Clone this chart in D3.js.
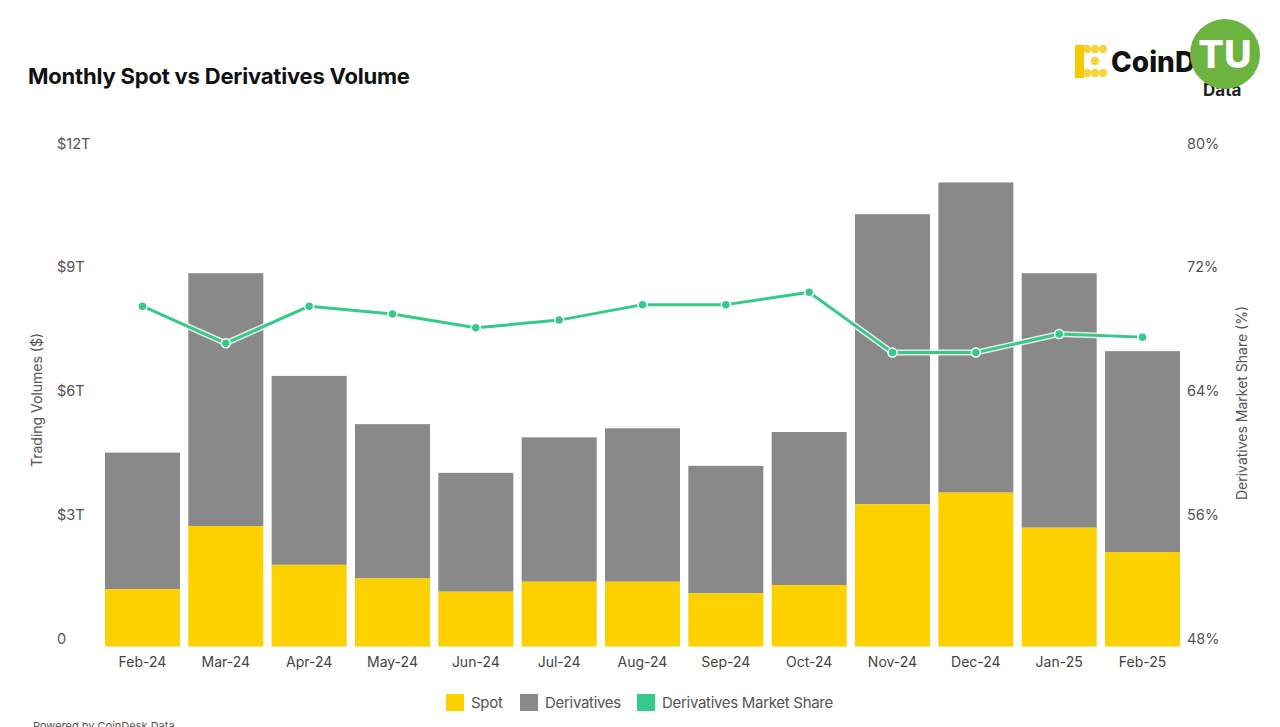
<!DOCTYPE html>
<html>
<head>
<meta charset="utf-8">
<script src="https://cdn.jsdelivr.net/npm/d3@7/dist/d3.min.js"></script>
<style>
  html, body { margin: 0; padding: 0; background: #fff; }
  svg { display: block; font-family: Inter, "Liberation Sans", Arial, sans-serif; }
</style>
</head>
<body>
<svg id="chart" width="1280" height="727"></svg>
<script>
// ---- data ----
const months = ["Feb-24","Mar-24","Apr-24","May-24","Jun-24","Jul-24","Aug-24","Sep-24","Oct-24","Nov-24","Dec-24","Jan-25","Feb-25"];
const spot = [1.39, 2.92, 1.98, 1.65, 1.33, 1.57, 1.57, 1.29, 1.49, 3.45, 3.73, 2.88, 2.29];           // $T
const derivatives = [3.31, 6.13, 4.58, 3.74, 2.88, 3.50, 3.72, 3.09, 3.71, 7.03, 7.52, 6.17, 4.87]; // $T
const marketShare = [70.0, 67.6, 70.0, 69.5, 68.6, 69.1, 70.1, 70.1, 70.9, 67.0, 67.0, 68.2, 68.0]; // %
const leftTicks = [0, 3, 6, 9, 12];
const leftTickLabels = ["0", "$3T", "$6T", "$9T", "$12T"];
const rightTicks = [48, 56, 64, 72, 80];
const rightTickLabels = ["48%", "56%", "64%", "72%", "80%"];
const seriesNames = ["Spot", "Derivatives", "Derivatives Market Share"];

const colors = { spot: "#FDD000", deriv: "#898989", share: "#35C98A" };

const svg = d3.select("#chart");

const x = d3.scaleBand().domain(months).range([100.8, 1184.2]).paddingInner(0.1).paddingOuter(0.05);
const y = d3.scaleLinear().domain([0, 12]).range([646.5, 151.5]);
const y2 = d3.scaleLinear().domain([48, 80]).range([646.5, 151.5]);

// title
svg.append("text").attr("x", 28).attr("y", 84)
  .attr("font-size", 22).attr("font-weight", 700).attr("fill", "#111")
  .attr("letter-spacing", -0.2)
  .text("Monthly Spot vs Derivatives Volume");

// logo
const logo = svg.append("g");
const dots = [[0,0],[1,0],[2,0],[3,0],[0,1],[0,2],[0,3],[1,3],[2,3],[3,3],[2,1.5]];
dots.forEach(([i,j]) => {
  logo.append("circle").attr("cx", 1079 + i*8).attr("cy", 49 + j*8).attr("r", 4.2).attr("fill", "#F6D33A");
});
logo.append("rect").attr("x", 1075).attr("y", 45).attr("width", 9).attr("height", 33).attr("fill", "#F6C900");
logo.append("text").attr("x", 1111).attr("y", 72).attr("font-size", 28).attr("font-weight", 800).attr("fill", "#111").text("CoinD");
logo.append("text").attr("x", 1203).attr("y", 96).attr("font-size", 17).attr("font-weight", 700).attr("fill", "#222").text("Data");
// watermark badge
svg.append("circle").attr("cx", 1225).attr("cy", 54).attr("r", 35).attr("fill", "#6CB33F");
svg.append("text").attr("x", 1225).attr("y", 68).attr("text-anchor", "middle")
  .attr("font-size", 38).attr("font-weight", 800).attr("fill", "#fff").text("TU");

// bars
const g = svg.append("g");
months.forEach((m, i) => {
  g.append("rect").attr("x", x(m)).attr("width", x.bandwidth())
    .attr("y", y(spot[i] + derivatives[i])).attr("height", y(spot[i]) - y(spot[i] + derivatives[i]))
    .attr("fill", colors.deriv);
  g.append("rect").attr("x", x(m)).attr("width", x.bandwidth())
    .attr("y", y(spot[i])).attr("height", y(0) - y(spot[i]))
    .attr("fill", colors.spot);
});

// axis labels
leftTicks.forEach((t, i) => {
  svg.append("text").attr("x", 57).attr("y", y(t) - 8).attr("dy", "0.35em")
    .attr("font-size", 14.5).attr("fill", "#555").text(leftTickLabels[i]);
});
rightTicks.forEach((t, i) => {
  svg.append("text").attr("x", 1187).attr("y", y2(t) - 8).attr("dy", "0.35em")
    .attr("font-size", 14.5).attr("fill", "#555").text(rightTickLabels[i]);
});

// axis titles
svg.append("text").attr("transform", "translate(42,400) rotate(-90)").attr("text-anchor", "middle")
  .attr("font-size", 14).attr("fill", "#555").text("Trading Volumes ($)");
svg.append("text").attr("transform", "translate(1247,403) rotate(-90)").attr("text-anchor", "middle")
  .attr("font-size", 14).attr("fill", "#555").text("Derivatives Market Share (%)");

// x labels
months.forEach(m => {
  svg.append("text").attr("x", x(m) + x.bandwidth()/2).attr("y", 667).attr("text-anchor", "middle")
    .attr("font-size", 14).attr("fill", "#444").text(m);
});

// line
const line = d3.line().x((d, i) => x(months[i]) + x.bandwidth()/2).y(d => y2(d));
svg.append("path").datum(marketShare).attr("d", line).attr("fill", "none")
  .attr("stroke", "#fff").attr("stroke-opacity", 0.8).attr("stroke-width", 6).attr("stroke-linejoin", "round");
svg.append("path").datum(marketShare).attr("d", line).attr("fill", "none")
  .attr("stroke", colors.share).attr("stroke-width", 3).attr("stroke-linejoin", "round");
svg.selectAll("circle.pt").data(marketShare).enter().append("circle").attr("class", "pt")
  .attr("cx", (d, i) => x(months[i]) + x.bandwidth()/2).attr("cy", d => y2(d))
  .attr("r", 4.5).attr("fill", colors.share).attr("stroke", "#fff").attr("stroke-width", 1.5);

// legend
const legend = [
  { name: seriesNames[0], color: colors.spot, x: 446 },
  { name: seriesNames[1], color: colors.deriv, x: 520 },
  { name: seriesNames[2], color: colors.share, x: 637 }
];
legend.forEach(l => {
  svg.append("rect").attr("x", l.x).attr("y", 694).attr("width", 18).attr("height", 17).attr("fill", l.color);
  svg.append("text").attr("x", l.x + 25).attr("y", 703).attr("dy", "0.35em")
    .attr("font-size", 15).attr("fill", "#555").attr("letter-spacing", -0.3).text(l.name);
});

// footer (cut off at bottom edge, as in the reference)
svg.append("text").attr("x", 33).attr("y", 730).attr("font-size", 11).attr("fill", "#555").text("Powered by CoinDesk Data");
</script>
</body>
</html>
